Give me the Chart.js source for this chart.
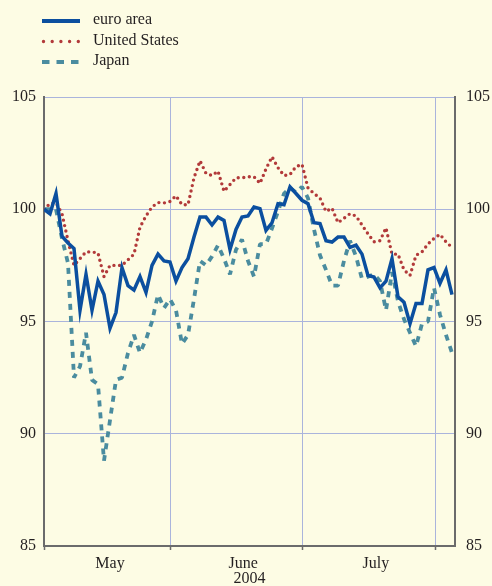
<!DOCTYPE html>
<html>
<head>
<meta charset="utf-8">
<script src="https://cdn.jsdelivr.net/npm/chart.js@4.4.0/dist/chart.umd.min.js"></script>
<style>
  html, body { margin: 0; padding: 0; background: #fdfce4; }
  #wrap { width: 492px; height: 586px; position: relative; }
</style>
</head>
<body>
<div id="wrap"><canvas id="chart"></canvas></div>
<script>
const BLUE = '#0b4f9f';
const RED = '#b23a3a';
const TEAL = '#4a8c9f';
const GRID = '#aab4dc';
const AXIS = '#6b6b6b';
const TEXT = '#231f20';
const FONT = "'Liberation Serif', 'Times New Roman', serif";

// one value per business day, 3 May 2004 onwards
const EURO = [
    100.0, 99.8, 100.7, 98.8, 98.5, 98.25, 95.5, 97.1, 95.5, 96.8,
    96.2, 94.7, 95.4, 97.4, 96.6, 96.4, 97.0, 96.3, 97.5, 98.0,
    97.7, 97.65, 96.8, 97.4, 97.8, 98.76, 99.65, 99.65, 99.3, 99.65,
    99.5, 98.2, 99.1, 99.65, 99.7, 100.1, 100.03, 99.06, 99.4, 100.25,
    100.2, 101.0, 100.7, 100.4, 100.25, 99.4, 99.36, 98.6, 98.54, 98.76,
    98.76, 98.3, 98.4, 98.0, 97.05, 96.98, 96.5, 96.8, 97.8, 96.1,
    95.86, 94.9, 95.8, 95.8, 97.3, 97.4, 96.7, 97.3, 96.2,
];
const US = [
    100.0, 100.25, 100.3, 99.8, 98.6, 97.5, 97.8, 98.1, 98.1, 98.05,
    97.0, 97.5, 97.5, 97.5, 97.75, 98.0, 99.2, 99.7, 100.1, 100.3,
    100.28, 100.35, 100.6, 100.2, 100.2, 101.4, 102.16, 101.6, 101.5, 101.7,
    100.8, 101.1, 101.4, 101.4, 101.45, 101.45, 101.15, 101.8, 102.34, 101.85,
    101.5, 101.55, 101.9, 102.0, 100.95, 100.7, 100.5, 99.9, 100.05, 99.4,
    99.6, 99.8, 99.7, 99.3, 98.9, 98.55, 98.6, 99.17, 98.0, 98.0,
    97.3, 97.05, 97.95, 98.1, 98.45, 98.7, 98.88, 98.55, 98.3,
];
const JAPAN = [
    100.0, 100.0, 100.0, 98.7, 97.6, 92.5, 93.0, 94.5, 92.4, 92.2,
    88.8, 90.6, 92.4, 92.5, 93.6, 94.4, 93.6, 94.2, 95.0, 96.2,
    95.6, 96.0, 95.5, 94.0, 94.4, 96.0, 97.7, 97.5, 97.9, 98.4,
    97.8, 97.1, 98.2, 98.65, 97.7, 97.0, 98.45, 98.45, 99.15, 99.9,
    100.7, 100.95, 100.75, 101.0, 100.5, 99.1, 97.95, 97.3, 96.6, 96.6,
    97.7, 98.6, 97.9, 96.9, 97.0, 97.1, 96.8, 95.5, 97.2, 95.9,
    95.1, 94.5, 93.9, 94.9, 95.0, 96.5, 95.3, 94.4, 93.6,
];

const SERIES_NAMES = ['euro area', 'United States', 'Japan'];
const MONTHS = ['May', 'June', 'July'];
const MONTH_CENTRES = [11, 33.2, 55.3];
const MONTH_STARTS = [0, 21, 43, 65.3];
const YEAR = '2004';
const X_MAX = 68.5;

const points = (values) => values.map((y, x) => ({ x, y }));

const sideLegend = {
    id: 'sideLegend',
    afterDraw(chart) {
        const ctx = chart.ctx;
        const items = [
            { y: 21, color: BLUE, width: 4, dash: [], cap: 'butt', from: 42, to: 80 },
            { y: 41.5, color: RED, width: 3.4, dash: [0, 8.7], cap: 'round', from: 43.5, to: 80 },
            { y: 62, color: TEAL, width: 4, dash: [7.5, 7], cap: 'butt', from: 42, to: 80 },
        ];
        ctx.save();
        items.forEach((item, i) => {
            ctx.beginPath();
            ctx.strokeStyle = item.color;
            ctx.lineWidth = item.width;
            ctx.lineCap = item.cap;
            ctx.setLineDash(item.dash);
            ctx.moveTo(item.from, item.y);
            ctx.lineTo(item.to, item.y);
            ctx.stroke();
            ctx.setLineDash([]);
            ctx.fillStyle = TEXT;
            ctx.font = `16px ${FONT}`;
            ctx.textBaseline = 'middle';
            ctx.textAlign = 'left';
            ctx.fillText(SERIES_NAMES[i], 93, item.y - 1);
        });
        ctx.restore();
    },
};

const tickFont = { family: FONT, size: 16 };

new Chart(document.getElementById('chart'), {
    type: 'line',
    data: {
        datasets: [
            {
                label: SERIES_NAMES[0],
                data: points(EURO),
                borderColor: BLUE,
                borderWidth: 3.5,
                tension: 0,
                pointRadius: 0,
                yAxisID: 'y',
            },
            {
                label: SERIES_NAMES[1],
                data: points(US),
                borderColor: RED,
                borderWidth: 3.4,
                borderDash: [0, 5.6],
                borderCapStyle: 'round',
                tension: 0,
                pointRadius: 0,
                yAxisID: 'y',
            },
            {
                label: SERIES_NAMES[2],
                data: points(JAPAN),
                borderColor: TEAL,
                borderWidth: 3.8,
                borderDash: [6, 6],
                borderJoinStyle: 'bevel',
                tension: 0,
                pointRadius: 0,
                yAxisID: 'y',
            },
        ],
    },
    options: {
        responsive: true,
        maintainAspectRatio: false,
        animation: false,
        layout: { padding: { top: 97, left: 0, right: 0, bottom: 0 } },
        plugins: {
            legend: { display: false },
            tooltip: { enabled: false },
        },
        scales: {
            x: {
                type: 'linear',
                position: 'bottom',
                min: 0,
                max: X_MAX,
                afterBuildTicks: (scale) => { scale.ticks = MONTH_STARTS.map((value) => ({ value })); },
                afterFit: (scale) => { scale.height = 0; },
                ticks: { display: false },
                grid: { color: GRID, lineWidth: 1, tickLength: 4, tickColor: AXIS, tickWidth: 1.5 },
                border: { color: AXIS, width: 2 },
            },
            months: {
                type: 'linear',
                position: 'bottom',
                min: 0,
                max: X_MAX,
                afterBuildTicks: (scale) => { scale.ticks = MONTH_CENTRES.map((value) => ({ value })); },
                afterFit: (scale) => { scale.height = 40; },
                ticks: {
                    color: TEXT,
                    font: tickFont,
                    padding: 8,
                    maxRotation: 0,
                    autoSkip: false,
                    callback: (value, index) => MONTHS[index],
                },
                grid: { display: false, drawTicks: false },
                border: { display: false },
                title: { display: true, text: YEAR, color: TEXT, font: tickFont, padding: { top: 0, bottom: -2 } },
            },
            y: {
                position: 'left',
                min: 85,
                max: 105,
                afterFit: (scale) => { scale.width = 44; },
                ticks: { stepSize: 5, color: TEXT, font: tickFont, padding: 8 },
                grid: { color: GRID, lineWidth: 1, drawTicks: false },
                border: { color: AXIS, width: 2 },
            },
            y2: {
                position: 'right',
                min: 85,
                max: 105,
                afterFit: (scale) => { scale.width = 37; },
                ticks: { stepSize: 5, color: TEXT, font: tickFont, padding: 11 },
                grid: { display: false, drawTicks: false },
                border: { color: AXIS, width: 2 },
            },
        },
    },
    plugins: [sideLegend],
});
</script>
</body>
</html>
